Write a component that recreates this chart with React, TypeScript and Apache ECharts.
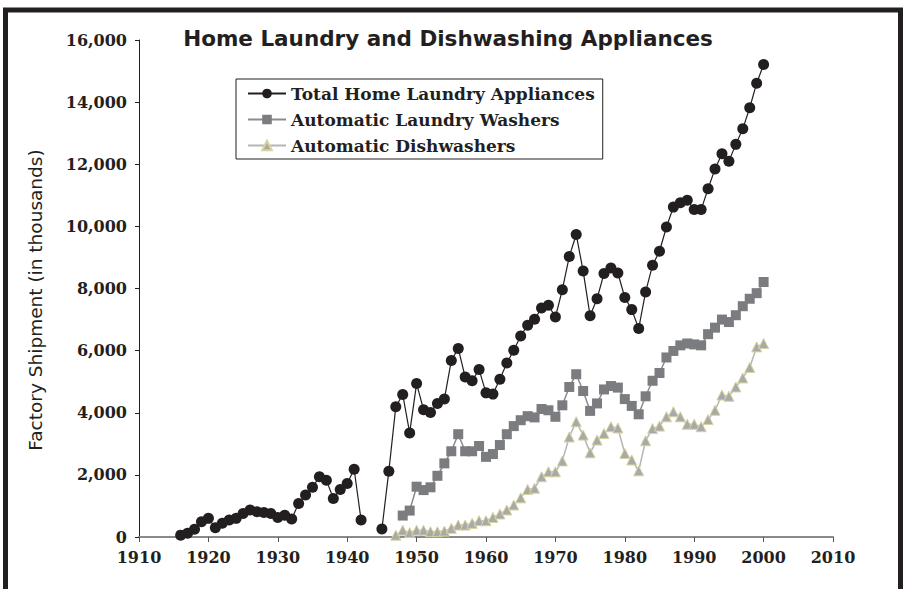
import React, { useEffect, useRef } from "react";
import * as echarts from "echarts";

const titleText = "Home Laundry and Dishwashing Appliances";
const yAxisTitle = "Factory Shipment (in thousands)";
const seriesNames = ["Total Home Laundry Appliances", "Automatic Laundry Washers", "Automatic Dishwashers"];

const totalStartYear = 1916;
const totalValues: (number | null)[] = [
  60, 120, 250, 490, 600, 300, 440, 545, 600, 760,
  870, 815, 790, 760, 630, 700, 580, 1080, 1350, 1600,
  1940, 1830, 1240, 1530, 1725, 2180, 545, null, null, 255,
  2120, 4190, 4590, 3350, 4940, 4100, 4010, 4300, 4440, 5680,
  6070, 5150, 5030, 5390, 4640, 4600, 5080, 5600, 6010, 6470,
  6820, 7010, 7370, 7460, 7080, 7960, 9030, 9740, 8560, 7120,
  7670, 8480, 8660, 8500, 7710, 7320, 6710, 7890, 8750, 9200,
  9980, 10620, 10760, 10840, 10540, 10540, 11210, 11850, 12340, 12100,
  12640, 13140, 13820, 14610, 15210,
];

const washerStartYear = 1948;
const washerValues: number[] = [
  690, 850, 1620, 1510, 1600, 1970, 2370, 2760, 3310, 2760,
  2760, 2930, 2580, 2670, 2960, 3310, 3570, 3760, 3890, 3850,
  4120, 4080, 3870, 4240, 4830, 5240, 4700, 4060, 4300, 4750,
  4860, 4810, 4440, 4220, 3950, 4530, 5030, 5280, 5780, 5990,
  6170, 6230, 6200, 6170, 6530, 6740, 7000, 6920, 7140, 7430,
  7670, 7850, 8210,
];

const dishStartYear = 1947;
const dishValues: number[] = [
  60, 220, 140, 220, 220, 170, 170, 190, 280, 385,
  385, 440, 525, 525, 630, 740, 870, 1030, 1260, 1530,
  1570, 1940, 2100, 2100, 2450, 3220, 3710, 3280, 2710, 3120,
  3330, 3550, 3510, 2690, 2480, 2130, 3100, 3490, 3570, 3870,
  4030, 3870, 3630, 3630, 3550, 3780, 4080, 4570, 4530, 4830,
  5120, 5460, 6120, 6230,
];

const xMin = 1910;
const xMax = 2010;
const xStep = 10;
const yMin = 0;
const yMax = 16000;
const yStep = 2000;

function toPairs(start: number, vals: (number | null)[]) {
  return vals.map((v, i) => [start + i, v]);
}

export default function App() {
  const ref = useRef<HTMLDivElement>(null);
  useEffect(() => {
    document.body.style.margin = "0";
    if (!ref.current) return;
    const chart = echarts.init(ref.current, null, { renderer: "svg" });
    const dark = "#231f20";
    const serif = "DejaVu Serif";
    chart.setOption({
      animation: false,
      backgroundColor: "#ffffff",
      grid: { left: 139, right: 71, top: 40, bottom: 52, containLabel: false },
      title: {
        text: titleText,
        left: 443,
        top: 22,
        textAlign: "center",
        textStyle: { fontFamily: "DejaVu Sans", fontWeight: "bold", fontSize: 21.5, color: dark },
      },
      legend: {
        orient: "vertical",
        left: 236,
        top: 79,
        data: seriesNames,
        borderColor: dark,
        borderWidth: 1,
        borderRadius: 0,
        padding: [6, 8, 5, 11],
        itemWidth: 38,
        itemHeight: 12,
        itemGap: 9,
        textStyle: { fontFamily: serif, fontWeight: "bold", fontSize: 17, color: dark },
      },
      graphic: [
        {
          type: "rect",
          shape: { x: 5.5, y: 10, width: 895, height: 640 },
          style: { fill: "none", stroke: dark, lineWidth: 5 },
          silent: true,
          z: 100,
        },
        {
          type: "text",
          x: 35,
          y: 300,
          rotation: Math.PI / 2,
          style: {
            text: yAxisTitle,
            fontFamily: "DejaVu Sans",
            fontSize: 18.5,
            fill: dark,
            align: "center",
            verticalAlign: "middle",
          },
        },
      ],
      xAxis: {
        type: "value",
        min: xMin,
        max: xMax,
        interval: xStep,
        splitLine: { show: false },
        axisLine: { onZero: false, lineStyle: { color: "#8a8a8a", width: 2 } },
        axisTick: { show: true, length: 5, lineStyle: { color: "#555555", width: 1 } },
        axisLabel: {
          margin: 12,
          fontFamily: serif,
          fontWeight: "bold",
          fontSize: 16,
          color: dark,
          formatter: (v: number) => String(v),
        },
      },
      yAxis: {
        type: "value",
        min: yMin,
        max: yMax,
        interval: yStep,
        splitLine: { show: false },
        axisLine: { show: true, lineStyle: { color: dark, width: 1 } },
        axisTick: { show: true, length: 4, lineStyle: { color: dark, width: 1 } },
        axisLabel: {
          margin: 12,
          fontFamily: serif,
          fontWeight: "bold",
          fontSize: 16,
          color: dark,
          formatter: (v: number) => v.toLocaleString("en-US"),
        },
      },
      series: [
        {
          name: seriesNames[0],
          type: "line",
          data: toPairs(totalStartYear, totalValues),
          connectNulls: false,
          symbol: "circle",
          symbolSize: 11,
          itemStyle: { color: dark },
          lineStyle: { color: dark, width: 1.2 },
          z: 4,
        },
        {
          name: seriesNames[1],
          type: "line",
          data: toPairs(washerStartYear, washerValues),
          symbol: "rect",
          symbolSize: 10,
          itemStyle: { color: "#7b7c7f" },
          lineStyle: { color: "#8a8b8d", width: 1.5 },
          z: 3,
        },
        {
          name: seriesNames[2],
          type: "line",
          data: toPairs(dishStartYear, dishValues),
          symbol: "triangle",
          symbolSize: 10,
          itemStyle: { color: "#a8a9ab", borderColor: "#d9d39b", borderWidth: 1 },
          lineStyle: { color: "#b5b5b5", width: 1.5 },
          z: 2,
        },
      ],
    });
    return () => chart.dispose();
  }, []);
  return <div ref={ref} style={{ width: 904, height: 589 }} />;
}
